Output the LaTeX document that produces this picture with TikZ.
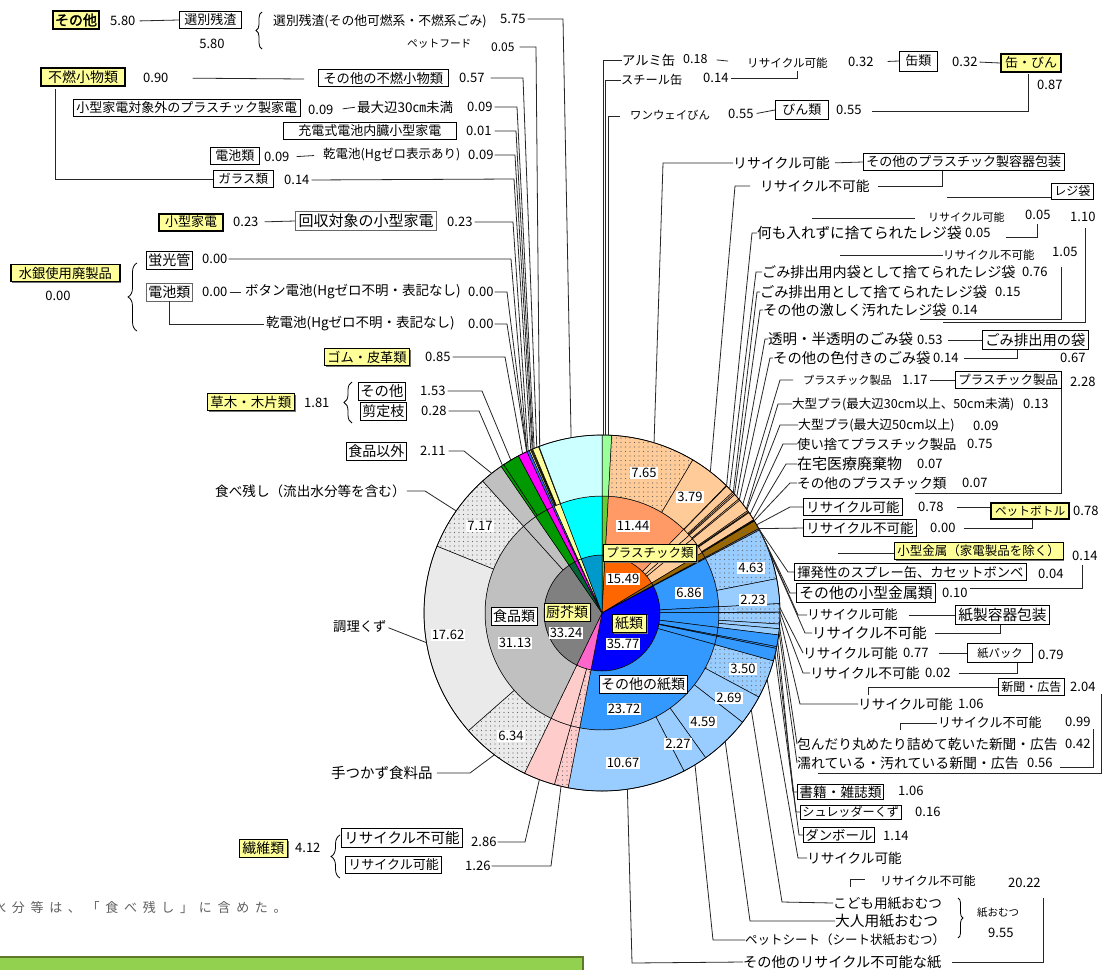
\documentclass[tikz,border=0pt]{standalone}
\usepackage{fontspec}
\setmainfont{Noto Sans CJK JP}[AutoFakeBold=2]
\usetikzlibrary{calc,patterns.meta,shadows,decorations.pathreplacing}
\definecolor{yel}{HTML}{FFFF99}
\definecolor{canO}{HTML}{99FF99}
\definecolor{canM}{HTML}{66CC33}
\definecolor{plI}{HTML}{FF6600}
\definecolor{plM}{HTML}{FF9966}
\definecolor{plO}{HTML}{FFCC99}
\definecolor{petC}{HTML}{996600}
\definecolor{metC}{HTML}{808080}
\definecolor{bluI}{HTML}{0000FF}
\definecolor{bluM}{HTML}{3399FF}
\definecolor{bluO}{HTML}{99CCFF}
\definecolor{pnkI}{HTML}{FF66CC}
\definecolor{pnkO}{HTML}{FFCCCC}
\definecolor{gryI}{HTML}{808080}
\definecolor{gryM}{HTML}{C0C0C0}
\definecolor{gryO}{HTML}{EAEAEA}
\definecolor{grnI}{HTML}{006633}
\definecolor{grnC}{HTML}{009900}
\definecolor{magC}{HTML}{FF00FF}
\definecolor{kadC}{HTML}{3366FF}
\definecolor{cyI}{HTML}{0099CC}
\definecolor{cyM}{HTML}{00FFFF}
\definecolor{cyO}{HTML}{CCFFFF}
\definecolor{grnBox}{HTML}{92D050}
\definecolor{grnEdge}{HTML}{5E7A28}
\definecolor{noteC}{HTML}{606060}
\newcommand\arcpt[2]{\coordinate (#1) at ($(C)+({#2-90}:178)$);}
\newcommand\sect[5]{\path[psec,#5] ($(C)+({3.6*(#1)-90}:#3)$) arc[start angle={3.6*(#1)-90},end angle={3.6*(#2)-90},radius=#3] -- ($(C)+({3.6*(#2)-90}:#4)$) arc[start angle={3.6*(#2)-90},end angle={3.6*(#1)-90},radius=#4] -- cycle;}
\newcommand\wdg[3]{\path[psec,#3] (C) -- ($(C)+({3.6*(#1)-90}:58)$) arc[start angle={3.6*(#1)-90},end angle={3.6*(#2)-90},radius=58] -- cycle;}
\tikzset{
  psec/.style={draw=black, line width=0.5pt},
  dts/.style={postaction={pattern={Dots[distance=4.5pt,radius=0.55pt]}, pattern color=black!60}},
  lnk/.style={draw=black!85, line width=0.8pt},
  fs/.style={font=\fontsize{#1}{#1}\selectfont},
  lab/.style={inner sep=0pt, anchor=west, fs=13},
  labs/.style={lab, fs=11.5},
  bx/.style={draw=black, line width=0.8pt, fill=white, inner xsep=3pt, inner ysep=2.5pt, anchor=west, fs=13},
  ybx/.style={bx, fill=yel, line width=2pt},
  ysh/.style={bx, fill=yel, drop shadow={shadow xshift=1.5pt, shadow yshift=-1.5pt, fill=black!55, opacity=1}},
  pnum/.style={fill=white, inner sep=1pt, fs=13},
  brc/.style={draw, line width=0.8pt, decorate, decoration={brace, amplitude=#1}},
}
\begin{document}
\begin{tikzpicture}[x=1pt,y=-1pt]
\clip (0,0) rectangle (1107,969);
\fill[white] (0,0) rectangle (1107,969);
\coordinate (C) at (602,613);
% ---------------- pie ----------------
\wdg{0}{0.87}{fill=canM}
\sect{0}{0.87}{58}{117}{fill=canM}
\sect{0}{0.87}{117}{178}{fill=canO}
\wdg{0.87}{16.36}{fill=plI}
\sect{0.87}{12.31}{58}{117}{fill=plM}
\sect{0.87}{8.52}{117}{178}{fill=plO,dts}
\sect{8.52}{12.31}{117}{178}{fill=plO}
\foreach \a/\b in {12.31/13.41,13.41/14.08,14.08/16.36}{\sect{\a}{\b}{58}{117}{fill=plO}}
\foreach \a/\b in {12.31/12.36,12.36/13.12,13.12/13.27,13.27/13.41,13.41/13.94,13.94/14.08,14.08/15.25,15.25/15.38,15.38/15.47,15.47/16.22,16.22/16.29,16.29/16.36}{\sect{\a}{\b}{117}{178}{fill=plO}}
\wdg{16.36}{17.14}{fill=petC}
\sect{16.36}{17.14}{58}{117}{fill=petC}
\sect{16.36}{17.14}{117}{178}{fill=petC,dts}
\wdg{17.14}{17.28}{fill=metC}
\sect{17.14}{17.28}{58}{178}{fill=metC}
\wdg{17.28}{53.05}{fill=bluI}
\foreach \a/\b in {17.28/24.14,24.14/24.93,24.93/26.97,26.97/28.03,28.03/28.19,28.19/29.33,29.33/53.05}{\sect{\a}{\b}{58}{117}{fill=bluM}}
\foreach \a/\b in {17.28/21.91,24.14/24.91,24.93/25.99,29.33/32.83}{\sect{\a}{\b}{117}{178}{fill=bluO,dts}}
\foreach \a/\b in {21.91/24.14,24.91/24.93,25.99/26.41,26.41/26.97,32.83/35.52,35.52/40.11,40.11/42.38,42.38/53.05}{\sect{\a}{\b}{117}{178}{fill=bluO}}
\foreach \a/\b in {26.97/28.03,28.03/28.19,28.19/29.33}{\sect{\a}{\b}{117}{178}{fill=bluM}}
\wdg{53.05}{57.17}{fill=pnkI}
\sect{53.05}{54.31}{58}{117}{fill=pnkO,dts}
\sect{54.31}{57.17}{58}{117}{fill=pnkO}
\sect{53.05}{54.31}{117}{178}{fill=pnkO,dts}
\sect{54.31}{57.17}{117}{178}{fill=pnkO}
\wdg{57.17}{90.41}{fill=gryI}
\sect{57.17}{88.30}{58}{117}{fill=gryM}
\sect{88.30}{90.41}{58}{117}{fill=gryM}
\sect{57.17}{63.51}{117}{178}{fill=gryO,dts}
\sect{63.51}{81.13}{117}{178}{fill=gryO}
\sect{81.13}{88.30}{117}{178}{fill=gryO,dts}
\sect{88.30}{90.41}{117}{178}{fill=gryM}
\wdg{90.41}{92.22}{fill=grnI}
\sect{90.41}{92.22}{58}{117}{fill=grnC}
\sect{90.41}{90.69}{117}{178}{fill=grnC}
\sect{90.69}{92.22}{117}{178}{fill=grnC}
\wdg{92.22}{93.07}{fill=magC}
\sect{92.22}{93.07}{58}{117}{fill=magC}
\sect{92.22}{93.07}{117}{178}{fill=magC}
\wdg{93.07}{93.30}{fill=kadC}
\sect{93.07}{93.30}{58}{178}{fill=kadC}
\wdg{93.30}{94.20}{fill=yel}
\sect{93.30}{94.20}{58}{117}{fill=yel}
\foreach \a/\b in {93.30/93.44,93.44/93.53,93.53/93.54,93.54/93.63,93.63/94.20}{\sect{\a}{\b}{117}{178}{fill=yel}}
\wdg{94.20}{100}{fill=cyI}
\sect{94.20}{100}{58}{117}{fill=cyM}
\sect{94.20}{94.25}{117}{178}{fill=cyO}
\sect{94.25}{100}{117}{178}{fill=cyO}
\draw[line width=0.7pt] (C) circle[radius=178];
% pie numbers
\node[pnum] (n765) at (644,473) {7.65};
\node[pnum] (n379) at (690,497) {3.79};
\node[pnum] (n1144) at (633,526) {11.44};
\node[pnum] (n1549) at (623,579) {15.49};
\node[pnum] (n686) at (689,593) {6.86};
\node[pnum] (n463) at (751,568) {4.63};
\node[pnum] (n223) at (753,600) {2.23};
\node[pnum] (n3577) at (623,644) {35.77};
\node[pnum] (n350) at (743,669) {3.50};
\node[pnum] (n269) at (729,698) {2.69};
\node[pnum] (n2372) at (624,709) {23.72};
\node[pnum] (n459) at (703,722) {4.59};
\node[pnum] (n227) at (678,744) {2.27};
\node[pnum] (n1067) at (623,763) {10.67};
\node[pnum] (n717) at (480,526) {7.17};
\node[pnum] (n1762) at (448,635) {17.62};
\node[pnum] (n3113) at (515,643) {31.13};
\node[pnum] (n3324) at (566,633) {33.24};
\node[pnum] (n634) at (511,736) {6.34};
\node[ysh, anchor=center, fs=12.5] (plastic) at (650,553) {プラスチック類};
\node[ysh, anchor=center, fs=14] (kami) at (629,623) {紙類};
\node[ysh, anchor=center, fs=14, inner xsep=2pt] (chukai) at (567,612) {厨芥類};
\node[bx, anchor=center, fs=14, inner xsep=2pt] (shokuhin) at (514,616) {食品類};
\node[bx, anchor=center, fs=14, inner xsep=2pt] (sonokami) at (643,684) {その他の紙類};
% ---------------- end points on the rim ----------------
\arcpt{e575}{350}\arcpt{e005}{339.5}\arcpt{e057}{338.5}\arcpt{e009a}{337.6}\arcpt{e001}{337.2}
\arcpt{e009b}{336.9}\arcpt{eglass}{336.4}\arcpt{ekaden}{335.5}\arcpt{ekeiko}{335.05}\arcpt{ebutton}{335.0}
\arcpt{ekanden}{334.95}\arcpt{egomu}{333.5}\arcpt{ekusa1}{329.2}\arcpt{ekusa2}{326.0}\arcpt{eigai}{321.7}
\arcpt{etabe}{305}\arcpt{echori}{260.4}\arcpt{etetsu}{217.2}\arcpt{eseni1}{200.6}\arcpt{eseni2}{193.3}
\arcpt{eal}{0.3}\arcpt{est}{1.2}\arcpt{eow}{2.0}\arcpt{e765}{17}\arcpt{e379}{37.5}
\arcpt{eregi1}{44.4}\arcpt{eregi2}{45.8}\arcpt{eregi3}{47.5}\arcpt{eregi4}{48.1}\arcpt{egomi1}{49.2}\arcpt{egomi2}{50.5}
\arcpt{epla1}{52.3}\arcpt{epla2}{54.2}\arcpt{epla3}{54.5}\arcpt{epla4}{56.3}\arcpt{epla5}{58.1}\arcpt{epla6}{58.8}
\arcpt{epet1}{60.3}\arcpt{epet2}{61.7}\arcpt{emet1}{61.8}\arcpt{emet2}{62.1}\arcpt{epap1}{66.5}\arcpt{epap2}{68.5}
\arcpt{epack1}{88.3}\arcpt{epack2}{89.7}\arcpt{enews1}{91.6}\arcpt{enews2}{94.3}\arcpt{enews3}{96.1}
\arcpt{ebook}{99}\arcpt{eshred}{101.2}\arcpt{edan}{103.5}\arcpt{erec}{111.9}
\arcpt{ekodomo}{123}\arcpt{eotona}{136.2}\arcpt{epets}{148.5}\arcpt{eother}{171.8}
% ---------------- left labels ----------------
\node[ybx, inner xsep=2pt, font=\fontsize{14}{14}\selectfont\bfseries] (sonota) at (52,20) {その他};
\node[lab] (v580a) at (110,21) {5.80};
\node[bx, inner xsep=5pt] (senbetsu) at (179,20) {選別残渣};
\draw[lnk, shorten <=4pt] (v580a.east) -- (senbetsu.west);
\node[lab, anchor=center] (v580b) at (212,44) {5.80};
\draw[brc=6pt] (262,49) -- (262,12);
\node[lab, fs=12.8] (senb2) at (273,21) {選別残渣(その他可燃系・不燃系ごみ)};
\node[lab] (v575) at (500,19) {5.75};
\draw[lnk, shorten <=2pt] (v575.east) -- (563,19) -- (e575);
\node[lab, fs=10.7] (petf) at (407,44) {ペットフード};
\node[lab, fs=12] (v005a) at (491,47) {0.05};
\draw[lnk, shorten <=5pt] (v005a.east) -- (536,47) -- (e005);

\node[ybx, inner xsep=7pt, fs=14] (funen) at (40,77) {不燃小物類};
\node[lab] (v090) at (143,78) {0.90};
\draw[lnk, shorten <=24pt] (v090.east) -- (304,79);
\node[bx, fs=13.3, inner xsep=5pt] (sonofunen) at (318,78) {その他の不燃小物類};
\node[lab] (v057) at (459,78) {0.57};
\draw[lnk, shorten <=6pt] (v057.east) -- (523,78) -- (e057);
\node[bx, fs=13] (plakaden) at (73,108) {小型家電対象外のプラスチック製家電};
\node[lab] (v009c) at (308,110) {0.09};
\node[lab, fs=13.5] (saidai) at (357,107) {最大辺30㎝未満};
\node[lab] (v009d) at (467,107) {0.09};
\draw[lnk, shorten <=9pt, shorten >=2pt] (v009c.east) -- (saidai.west);
\draw[lnk, shorten <=2pt] (v009d.east) -- (517,107) -- (e009a);
\node[bx, fs=13, inner xsep=15pt] (juden) at (283,131) {充電式電池内臓小型家電};
\node[lab] (v001) at (466,131) {0.01};
\draw[lnk, shorten <=3pt] (v001.east) -- (516,131) -- (e001);
\node[bx, fs=13, inner xsep=5pt] (denchi) at (210,156) {電池類};
\node[lab] (v009e) at (264,157) {0.09};
\node[lab, fs=12.5] (kanden1) at (323,155) {乾電池(Hgゼロ表示あり)};
\draw[lnk, shorten <=7pt, shorten >=9pt] (v009e.east) -- (kanden1.west);
\node[lab] (v009f) at (468,155) {0.09};
\draw[lnk, shorten <=1pt] (v009f.east) -- (515,155) -- (e009b);
\node[bx, fs=12.5, inner xsep=5pt] (glassb) at (213,179) {ガラス類};
\node[lab] (v014g) at (284,180) {0.14};
\draw[lnk, shorten <=2pt] (v014g.east) -- (514,179) -- (eglass);
\draw[lnk] ($(funen.south west)+(15,2)$) |- (glassb.west);

\node[ybx, fs=13, inner xsep=6pt] (kaden) at (158,222) {小型家電};
\node[lab] (v023a) at (233,222) {0.23};
\node[bx, fs=15, draw=black!60, line width=1.2pt] (kaisyu) at (295,221) {回収対象の小型家電};
\draw[lnk, shorten <=6pt] (v023a.east) -- (kaisyu.west);
\node[lab] (v023b) at (447,222) {0.23};
\draw[lnk, shorten <=2pt] (v023b.east) -- (513,222) -- (ekaden);

\node[ysh, fs=13.3, inner xsep=8pt, line width=1.6pt] (suigin) at (10,273) {水銀使用廃製品};
\node[lab, anchor=center] (v000s) at (58,296) {0.00};
\draw[brc=9pt] (137,331) -- (137,263);
\node[bx, fs=14, inner xsep=2pt] (keiko) at (146,260) {蛍光管};
\node[lab] (v000k) at (202,259) {0.00};
\draw[lnk, shorten <=1pt] (v000k.east) -- (511,259) -- (ekeiko);
\node[bx, fs=14, inner xsep=2pt, draw=black!60] (denchi2) at (146,292) {電池類};
\node[lab] (v000d) at (202,292) {0.00};
\node[lab, fs=13.5] (button) at (245,292) {ボタン電池(Hgゼロ不明・表記なし)};
\draw[lnk, shorten <=2pt, shorten >=4pt] (v000d.east) -- (button.west);
\node[lab] (v000b) at (468,292) {0.00};
\draw[lnk, shorten <=1pt] (v000b.east) -- (507,292) -- (ebutton);
\node[lab, fs=13.5] (kanden2) at (266,324) {乾電池(Hgゼロ不明・表記なし)};
\draw[lnk, shorten >=2pt] (denchi2.south) |- (kanden2.west);
\node[lab] (v000c) at (468,324) {0.00};
\draw[lnk, shorten <=1pt] (v000c.east) -- (507,324) -- (ekanden);

\node[ysh, fs=13.2] (gomu) at (324,357) {ゴム・皮革類};
\node[lab] (v085) at (425,357) {0.85};
\draw[lnk, shorten <=2pt] (v085.east) -- (505,357) -- (egomu);

\node[ysh, fs=13.5] (kusa) at (207,402) {草木・木片類};
\node[lab] (v181) at (304,403) {1.81};
\draw[brc=8pt] (352,423) -- (352,382);
\node[bx, fs=14.3, inner xsep=2pt] (kusason) at (358,391) {その他};
\node[lab] (v153) at (420,391) {1.53};
\draw[lnk, shorten <=2pt] (v153.east) -- (482,391) -- (ekusa1);
\node[bx, fs=14, inner xsep=2pt] (sentei) at (360,411) {剪定枝};
\node[lab] (v028) at (421,411) {0.28};
\draw[lnk, shorten <=2pt] (v028.east) -- (479,411) -- (ekusa2);

\node[bx, fs=14, inner xsep=2pt] (igai) at (346,451) {食品以外};
\node[lab] (v211) at (420,451) {2.11};
\draw[lnk, shorten <=3pt] (v211.east) -- (464,451) -- (eigai);
\node[lab, fs=13.6] (tabe) at (215,491) {食べ残し（流出水分等を含む）};
\draw[lnk, shorten <=1pt] (tabe.east) -- (425,491) -- (etabe);
\node[lab, fs=13.3] (chori) at (333,627) {調理くず};
\draw[lnk, shorten <=2pt] (chori.east) -- (echori);
\node[lab, fs=14.5] (tetsu) at (331,773) {手つかず食料品};
\draw[lnk, shorten <=4pt] (tetsu.east) -- (470,773) -- (etetsu);

\node[ysh, fs=14] (seni) at (239,848) {繊維類};
\node[lab] (v412) at (295,848) {4.12};
\draw[brc=9pt] (340,878) -- (340,835);
\node[bx, fs=14.5] (seninrec) at (341,838) {リサイクル不可能};
\node[lab] (v286) at (471,842) {2.86};
\draw[lnk, shorten <=1pt] (v286.east) -- (525,842) -- (eseni1);
\node[bx, fs=13] (senirec) at (345,865) {リサイクル可能};
\node[lab] (v126) at (465,866) {1.26};
\draw[lnk, shorten <=1pt] (v126.east) -- (551,866) -- (eseni2);

\node[lab, fs=13, text=noteC] (note) at (-7,908) {水\kern5.7pt 分\kern5.7pt 等\kern5.7pt は\kern5.7pt 、\kern5.7pt 「\kern5.7pt 食\kern5.7pt べ\kern5.7pt 残\kern5.7pt し\kern5.7pt 」\kern5.7pt に\kern5.7pt 含\kern5.7pt め\kern5.7pt た\kern5.7pt 。};
\path[fill=grnBox, draw=grnEdge, line width=1.5pt] (-5,957) rectangle (583,985);

% ---------------- right labels ----------------
\node[lab, fs=13.3] (alumi) at (622,60) {アルミ缶};
\node[lab, fs=12.5] (v018) at (683,59) {0.18};
\draw[lnk] (eal) |- (alumi.west);
\node[labs, fs=11.6] (rec032) at (747,63) {リサイクル可能};
\draw[lnk, shorten <=9pt, shorten >=19pt] (v018.east) -- (rec032.west);
\node[lab] (v032a) at (848,62) {0.32};
\node[bx, inner xsep=6pt, inner ysep=4pt] (kanrui) at (899,61) {缶類};
\draw[lnk, shorten <=14pt] (v032a.east) -- (kanrui.west);
\node[lab] (v032b) at (952,62) {0.32};
\node[ybx, inner xsep=4pt] (kanbin) at (1000,63) {缶・びん};
\draw[lnk, shorten <=2pt] (v032b.east) -- (kanbin.west);
\node[lab] (v087) at (1037,85) {0.87};
\node[lab, fs=12.2] (steel) at (621,80) {スチール缶};
\node[lab] (v014s) at (703,78) {0.14};
\draw[lnk] (est) |- (steel.west);
\draw[lnk, shorten <=2pt] (v014s.east) -| ($(rec032.south)+(10,2)$);
\node[labs, fs=11.4] (oneway) at (630,115) {ワンウェイびん};
\node[lab] (v055a) at (728,114) {0.55};
\node[bx, inner xsep=7pt, inner ysep=3.5pt] (binrui) at (775,110) {びん類};
\draw[lnk, shorten <=3pt] (v055a.east) -- (binrui.west);
\node[lab] (v055b) at (836,110) {0.55};
\draw[lnk] (eow) |- ($(oneway.west)+(-10,1)$);
\draw[lnk] ($(kanbin.south)+(-3,1)$) |- ($(v055b.east)+(10,1)$);

\node[lab, fs=13.9] (recP) at (733,163) {リサイクル可能};
\node[bx, fs=13] (otherpla) at (863,162) {その他のプラスチック製容器包装};
\draw[lnk, shorten <=5pt] (recP.east) -- (otherpla.west);
\draw[lnk] (e765) -- (663,163) -- (recP.west);
\node[lab, fs=13.75] (nrecP) at (760,186) {リサイクル不可能};
\draw[lnk] (e379) -- (735,186) -- ($(nrecP.west)+(-10,0)$);
\draw[lnk, shorten <=8pt] (nrecP.east) -| ($(otherpla.south)+(-21,0)$);
\node[bx, fs=12] (regi) at (1051,191) {レジ袋};
\coordinate (regiL) at (947,197);
\draw[lnk] (regiL) -- (regiL -| regi.west);
\node[labs, fs=11] (recR) at (928,217) {リサイクル可能};
\coordinate (recRL) at (812,218);
\draw[lnk] (recRL) -- ($(recR.west)+(-13,1)$);
\node[lab] (v005r) at (1025,215) {0.05};
\node[lab] (v110) at (1070,217) {1.10};
\node[lab, fs=14.6] (nani) at (757,233) {何も入れずに捨てられたレジ袋};
\node[lab] (v005n) at (965,233) {0.05};
\draw[lnk] (eregi1) -- (752,233) -- (nani.west);
\draw[lnk, shorten <=15pt] ($(v005n.east)+(0,4)$) -| ($(v005r.south)+(0,4)$);
\coordinate (b110) at (943,322);
\draw[lnk] ($(v110.south)+(3,6)$) |- (b110);
\node[labs] (nrecR) at (943,255) {リサイクル不可能};
\coordinate (nrecRL) at (840,255);
\draw[lnk] (nrecRL) -- (nrecR.west);
\node[lab] (v105) at (1052,252) {1.05};
\coordinate (b105) at (920,319);
\draw[lnk] ($(v105.south)+(-3,10)$) |- (b105);
\node[lab, fs=14.1] (uchi) at (762,272) {ごみ排出用内袋として捨てられたレジ袋};
\node[lab] (v076) at (1022,272) {0.76};
\draw[lnk] (eregi2) -- (756,272) -- (uchi.west);
\node[lab, fs=14.2] (haishutsu) at (760,292) {ごみ排出用として捨てられたレジ袋};
\node[lab] (v015) at (995,292) {0.15};
\draw[lnk] (eregi3) -- (757,292) -- (haishutsu.west);
\node[lab, fs=14.1] (hageshi) at (763,310) {その他の激しく汚れたレジ袋};
\node[lab] (v014h) at (952,310) {0.14};
\draw[lnk] (eregi4) -- (760,310) -- (hageshi.west);
\node[lab, fs=14.5] (toumei) at (768,339) {透明・半透明のごみ袋};
\node[lab] (v053) at (917,340) {0.53};
\draw[lnk] (egomi1) -- (765,339) -- (toumei.west);
\node[bx, fs=14.3] (gomibukuro) at (982,340) {ごみ排出用の袋};
\draw[lnk, shorten <=5pt] (v053.east) -- (gomibukuro.west);
\node[lab, fs=14.3] (iro) at (773,358) {その他の色付きのごみ袋};
\node[lab] (v014i) at (933,358) {0.14};
\draw[lnk] (egomi2) -- (770,358) -- (iro.west);
\draw[lnk, shorten <=5pt] (v014i.east) -| ($(gomibukuro.south)+(-18,0)$);
\node[lab] (v067) at (1060,358) {0.67};

\node[labs, fs=11.1] (plaseihin1) at (803,380) {プラスチック製品};
\node[lab] (v117) at (902,380) {1.17};
\node[bx, fs=12.5] (plaseihin) at (955,380) {プラスチック製品};
\draw[lnk, shorten <=2pt] (v117.east) -- (plaseihin.west);
\node[lab] (v228) at (1070,382) {2.28};
\draw[lnk] (epla1) -- (780,380) -- ($(plaseihin1.west)+(-10,0)$);
\coordinate (b228) at (915,493);
\draw[lnk] (plaseihin.south east) |- (b228);
\node[lab, fs=12.5] (oogata1) at (792,404) {大型プラ(最大辺30cm以上、50cm未満)};
\node[lab] (v013) at (1023,404) {0.13};
\draw[lnk] (epla2) -- (778,404) -- (oogata1.west);
\node[lab, fs=12.8] (oogata2) at (798,425) {大型プラ(最大辺50cm以上)};
\node[lab] (v009p) at (973,426) {0.09};
\draw[lnk] (epla3) -- (780,425) -- (oogata2.west);
\node[lab, fs=13.3] (tsukai) at (797,444) {使い捨てプラスチック製品};
\node[lab] (v075) at (967,444) {0.75};
\draw[lnk] (epla4) -- (783,444) -- (tsukai.west);
\node[lab, fs=15] (zaitaku) at (797,464) {在宅医療廃棄物};
\node[lab] (v007a) at (917,464) {0.07};
\draw[lnk] (epla5) -- (786,464) -- (zaitaku.west);
\node[lab, fs=13.6] (sonopla) at (797,483) {その他のプラスチック類};
\node[lab] (v007b) at (962,483) {0.07};
\draw[lnk] (epla6) -- (790,483) -- (sonopla.west);

\node[bx, fs=13.4] (petrec) at (803,507) {リサイクル可能};
\node[lab] (v078a) at (918,507) {0.78};
\node[ybx, fs=11.7, inner xsep=4pt] (petbottle) at (990,511) {ペットボトル};
\draw[lnk, shorten <=13pt] (v078a.east) -- (v078a.east -| petbottle.west);
\node[lab] (v078b) at (1073,511) {0.78};
\node[bx, fs=13.5] (petnrec) at (803,528) {リサイクル不可能};
\node[lab] (v000p) at (930,528) {0.00};
\draw[lnk, shorten <=8pt] (v000p.east) -| ($(petbottle.south)+(2,0)$);
\draw[lnk] (epet1) -- (790,507) -- (petrec.west);
\draw[lnk] (epet2) -- (petnrec.west);

\node[ysh, fs=12.5] (kinzoku) at (894,551) {小型金属（家電製品を除く）};
\coordinate (kinzokuL) at (838,553);
\draw[lnk] (kinzokuL) -- (kinzokuL -| kinzoku.west);
\node[lab] (v014m) at (1072,556) {0.14};
\node[bx, fs=13.3] (spray) at (794,572) {揮発性のスプレー缶、カセットボンベ};
\node[lab] (v004m) at (1038,574) {0.04};
\node[bx, fs=14.8] (sonokinzoku) at (796,593) {その他の小型金属類};
\node[lab] (v010m) at (942,593) {0.10};
\draw[lnk] ($(v010m.east)+(2,-5)$) -| ($(v014m.south)+(-2,4)$);
\draw[lnk] (emet1) -- (788,572) -- (spray.west);
\draw[lnk] (emet2) -- (790,593) -- (sonokinzoku.west);

\node[lab, fs=13] (paprec) at (807,615) {リサイクル可能};
\node[bx, fs=14.7] (papbox) at (955,615) {紙製容器包装};
\draw[lnk, shorten <=11pt] (paprec.east) -- (papbox.west);
\node[lab, fs=14.4] (papnrec) at (812,633) {リサイクル不可能};
\draw[lnk, shorten <=8pt] (papnrec.east) -| ($(papbox.south)+(-2,0)$);
\draw[lnk] (epap1) -- (798,615) -- (paprec.west);
\draw[lnk] (epap2) -- (805,633) -- (papnrec.west);
\node[lab, fs=13.6] (packrec) at (803,653) {リサイクル可能};
\node[lab] (v077) at (903,653) {0.77};
\node[bx, fs=11.3, inner xsep=10pt, inner ysep=4pt] (packbox) at (967,653) {紙パック};
\draw[lnk, shorten <=10pt] (v077.east) -- (packbox.west);
\node[lab] (v079) at (1038,655) {0.79};
\node[lab, fs=13.75] (packnrec) at (810,673) {リサイクル不可能};
\node[lab] (v002) at (925,673) {0.02};
\draw[lnk, shorten <=8pt] (v002.east) -| ($(packbox.south)+(17,0)$);
\draw[lnk] (epack1) -- (packrec.west);
\draw[lnk] (epack2) -- (803,673) -- (packnrec.west);

\node[bx, fs=12, inner ysep=3pt] (newsbox) at (998,687) {新聞・広告};
\node[lab] (v204) at (1070,687) {2.04};
\coordinate (newsA) at (868,695);
\draw[lnk] (newsA) |- (newsbox.west);
\node[lab, fs=13.6] (newsrec) at (858,704) {リサイクル可能};
\node[lab] (v106n) at (958,704) {1.06};
\draw[lnk] (enews1) -- (800,704) -- (newsrec.west);
\node[lab, fs=13] (nrec099) at (938,723) {リサイクル不可能};
\node[lab] (v099) at (1065,722) {0.99};
\coordinate (nrecA) at (900,730);
\draw[lnk] (nrecA) |- ($(nrec099.west)+(-1,0)$);
\node[lab, fs=13.7] (tsutsun) at (797,744) {包んだり丸めたり詰めて乾いた新聞・広告};
\node[lab] (v042) at (1065,744) {0.42};
\draw[lnk] (enews2) -- (tsutsun.west);
\node[lab, fs=13.9] (nureteiru) at (797,763) {濡れている・汚れている新聞・広告};
\node[lab] (v056) at (1027,763) {0.56};
\draw[lnk] (enews3) -- (nureteiru.west);
\draw[lnk] ($(v056.east)+(7,4)$) -| ($(v099.south east)+(3,2)$);
\coordinate (b204) at (818,773);
\draw[lnk] ($(v204.south east)+(6,2)$) |- (b204);

\node[bx, fs=13.7, inner xsep=2pt, inner ysep=1.5pt] (book) at (797,792) {書籍・雑誌類};
\node[lab] (v106b) at (898,791) {1.06};
\draw[lnk] (ebook) -- (793,792) -- (book.west);
\node[bx, fs=12.1, inner xsep=2pt, inner ysep=1.5pt] (shred) at (800,812) {シュレッダーくず};
\node[lab] (v016) at (915,812) {0.16};
\draw[lnk] (eshred) -- (796,812) -- (shred.west);
\node[bx, fs=13.4, inner xsep=2pt, inner ysep=1.5pt] (dan) at (803,835) {ダンボール};
\node[lab] (v114) at (883,836) {1.14};
\draw[lnk] (edan) -- (799,835) -- (dan.west);
\node[lab, fs=13.6] (kamirec) at (807,858) {リサイクル可能};
\draw[lnk] (erec) -- (798,858) -- (kamirec.west);

\node[lab, fs=12] (nrec2022) at (880,881) {リサイクル不可能};
\node[lab] (v2022) at (1008,883) {20.22};
\coordinate (nrecB) at (850,887);
\draw[lnk] (nrecB) |- ($(nrec2022.west)+(-15,-2)$);
\node[lab, fs=13.6] (kodomo) at (833,903) {こども用紙おむつ};
\draw[lnk] (ekodomo) -- (782,902) -- (kodomo.west);
\node[lab, fs=14.7] (otona) at (835,921) {大人用紙おむつ};
\draw[lnk] (eotona) -- (750,921) -- (otona.west);
\node[lab, fs=12.5] (petsheet) at (745,940) {ペットシート（シート状紙おむつ）};
\draw[lnk] (epets) -- (713,940) -- (petsheet.west);
\node[lab, fs=14.2] (otherkami) at (743,962) {その他のリサイクル不可能な紙};
\draw[lnk] (eother) -- (632,963) -- (otherkami.west);
\draw[brc=5pt] (958,898) -- (958,938);
\node[lab, fs=10.5] (omutsu) at (977,913) {紙おむつ};
\node[lab] (v955) at (988,933) {9.55};
\coordinate (b2022) at (1043,898);
\draw[lnk, shorten <=10pt] (otherkami.east) -| (b2022);
\end{tikzpicture}
\end{document}
